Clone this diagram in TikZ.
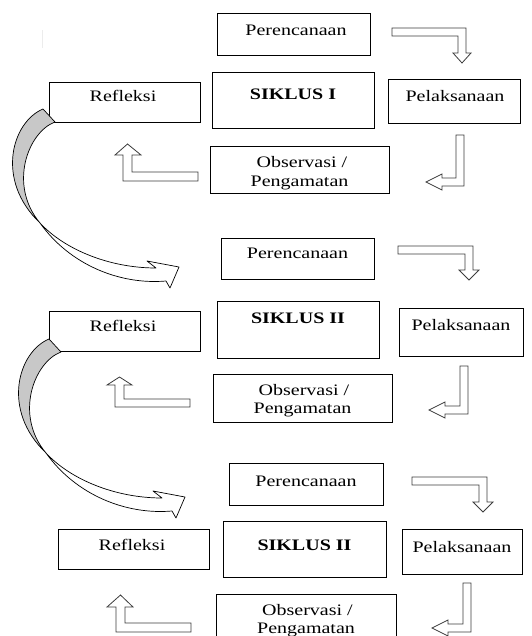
\documentclass[tikz,border=0pt]{standalone}
\usepackage{fontspec}
\setmainfont{Liberation Serif}[FakeStretch=1.25]
\newcommand\mycurvearrow[1]{%
  \begin{scope}[shift={#1}]
    \path[band, fill={rgb,255:red,200;green,200;blue,200}]
      (43,109) .. controls (12,122) and (-5,180) .. (40,223)
      .. controls (8,185) and (28,132) .. (55,122) -- cycle;
    \path[band, fill=white]
      (40,223) .. controls (65,250) and (110,268) .. (156,268)
      -- (147,261) -- (179,267) -- (170,288) -- (166,281)
      .. controls (120,285) and (70,265) .. (40,223) -- cycle;
  \end{scope}}
\begin{document}
\begin{tikzpicture}[x=1pt,y=-1pt,
  box/.style={draw=black, line width=0.9pt, inner sep=0pt, outer sep=0pt},
  lbl/.style={inner sep=0pt, anchor=base, font=\fontsize{16}{19}\selectfont},
  blk/.style={draw={rgb,255:red,60;green,60;blue,60}, line width=0.8pt, fill=white, line join=miter},
  band/.style={draw=black, line width=0.7pt, line join=round}]
\useasboundingbox (0,0) rectangle (531,636);

% faint mark
\draw[gray!15, line width=1pt] (42,30) -- (42,48);

% ---------------- Cycle 1 ----------------
\node[box, minimum width=153pt, minimum height=42pt] (p1) at (293.5,34) {};
\node[lbl] (p1t) at (296,36) {Perencanaan};
\node[box, minimum width=162pt, minimum height=56pt] (s1) at (293,100) {};
\node[lbl] (s1t) at (293,100) {\bfseries SIKLUS I};
\node[box, minimum width=151pt, minimum height=40pt] (r1) at (124.5,102) {};
\node[lbl] (r1t) at (123,102) {Refleksi};
\node[box, minimum width=132pt, minimum height=44pt] (l1) at (454,101) {};
\node[lbl] (l1t) at (455,102) {Pelaksanaan};
\node[box, minimum width=179pt, minimum height=47pt] (o1) at (299.5,169.5) {};
\node[lbl] (o1a) at (302,168) {Observasi /};
\node[lbl] (o1b) at (299.5,186) {Pengamatan};

\draw[blk] (392,28) -- (466,28) -- (466,53) -- (471,53) -- (462,63) -- (453,53)
  -- (458,53) -- (458,36) -- (392,36) -- cycle;
\draw[blk] (456,135) -- (464,135) -- (464,186) -- (442,186) -- (442,190) -- (426,182)
  -- (442,174) -- (442,178) -- (456,178) -- cycle;
\draw[blk] (198,181) -- (123,181) -- (123,155) -- (115,155) -- (127.5,144) -- (141,155)
  -- (132,155) -- (132,172) -- (198,172) -- cycle;

% ---------------- Cycle 2 ----------------
\node[box, minimum width=153pt, minimum height=41pt] (p2) at (297.5,258.5) {};
\node[lbl] (p2t) at (297.5,258) {Perencanaan};
\node[box, minimum width=162pt, minimum height=57pt] (s2) at (298,329.5) {};
\node[lbl] (s2t) at (298,323) {\bfseries SIKLUS II};
\node[box, minimum width=151pt, minimum height=40pt] (r2) at (124.5,331) {};
\node[lbl] (r2t) at (123,331) {Refleksi};
\node[box, minimum width=124pt, minimum height=48pt] (l2) at (461,332) {};
\node[lbl] (l2t) at (461,330) {Pelaksanaan};
\node[box, minimum width=179pt, minimum height=48pt] (o2) at (302.5,398) {};
\node[lbl] (o2a) at (304,395) {Observasi /};
\node[lbl] (o2b) at (302.5,413) {Pengamatan};

\draw[blk] (398,246) -- (473,246) -- (473,270) -- (479,270) -- (469,280) -- (459,270)
  -- (465,270) -- (465,254) -- (398,254) -- cycle;
\draw[blk] (460,366) -- (468,366) -- (468,414) -- (445,414) -- (445,418) -- (429,410)
  -- (445,402) -- (445,406) -- (460,406) -- cycle;
\draw[blk] (190,407) -- (115,407) -- (115,385) -- (107,385) -- (119.5,377) -- (132,385)
  -- (124,385) -- (124,399) -- (190,399) -- cycle;

% ---------------- Cycle 3 ----------------
\node[box, minimum width=154pt, minimum height=42pt] (p3) at (306,484) {};
\node[lbl] (p3t) at (306,486) {Perencanaan};
\node[box, minimum width=163pt, minimum height=56pt] (s3) at (304.5,549) {};
\node[lbl] (s3t) at (304.5,550) {\bfseries SIKLUS II};
\node[box, minimum width=151pt, minimum height=40pt] (r3) at (133.5,549) {};
\node[lbl] (r3t) at (132,550) {Refleksi};
\node[box, minimum width=120pt, minimum height=45pt] (l3) at (462,551.5) {};
\node[lbl] (l3t) at (462,552) {Pelaksanaan};
\node[box, minimum width=180pt, minimum height=70pt] (o3) at (306,629) {};
\node[lbl] (o3a) at (307.5,615) {Observasi /};
\node[lbl] (o3b) at (306,633) {Pengamatan};

\draw[blk] (412,477) -- (487,477) -- (487,502) -- (493,502) -- (483,512) -- (473,502)
  -- (479,502) -- (479,485) -- (412,485) -- cycle;
\draw[blk] (463,583) -- (471,583) -- (471,632) -- (448,632) -- (448,636) -- (432,628)
  -- (448,620) -- (448,624) -- (463,624) -- cycle;
\draw[blk] (191,632) -- (116,632) -- (116,607) -- (107,607) -- (120.5,595) -- (133,607)
  -- (125,607) -- (125,623) -- (191,623) -- cycle;

% ---------------- curved arrows ----------------
\mycurvearrow{(0,0)}
\mycurvearrow{(6,230)}
\end{tikzpicture}
\end{document}
